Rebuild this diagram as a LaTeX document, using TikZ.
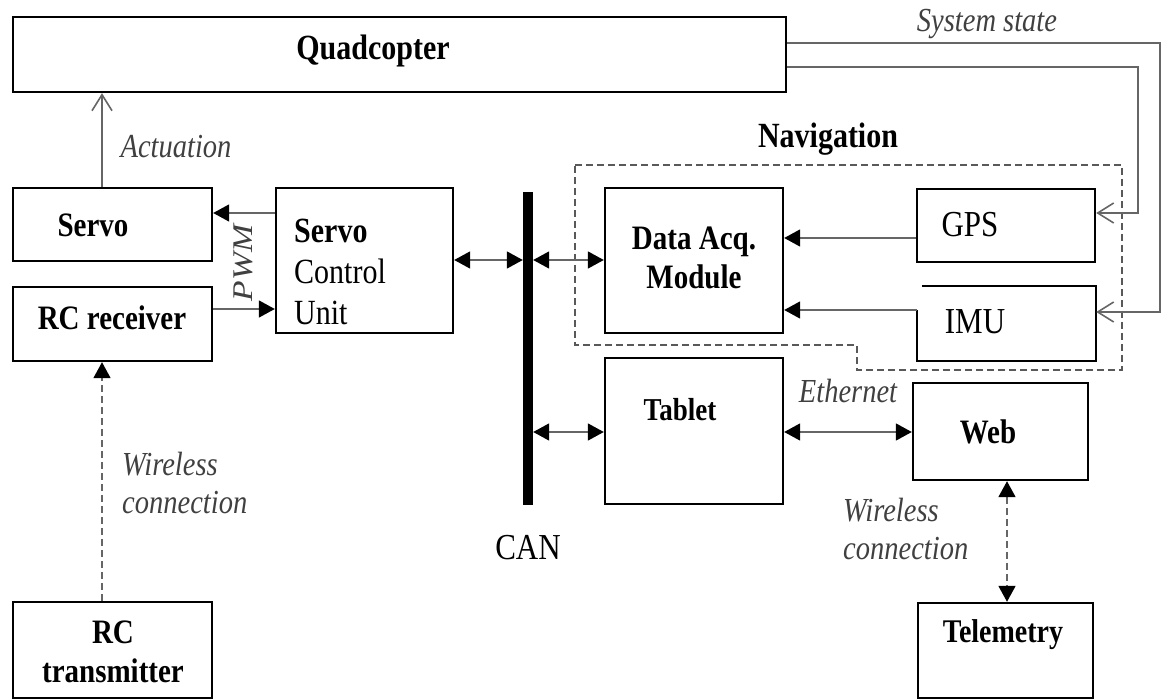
\documentclass[tikz,border=0pt]{standalone}
\usepackage{fontspec}
\setmainfont{Liberation Serif}
\usetikzlibrary{arrows.meta,fit,calc}
\begin{document}
\begin{tikzpicture}[x=1pt,y=-1pt,
  box/.style={draw=black, line width=2.4pt, inner sep=0pt},
  conn/.style={draw=black!60, line width=1.7pt},
  wire/.style={draw=black!60, line width=1.7pt, dash pattern=on 7pt off 4pt},
  navline/.style={draw=black!65, line width=1.6pt, dash pattern=on 7pt off 4pt},
  tri/.tip={Triangle[length=16pt,width=17pt,color=black]},
  barb/.tip={Straight Barb[length=16pt,width=20pt,line width=1.6pt]},
  bl/.style={font=\fontsize{29}{33}\selectfont\bfseries, inner sep=0pt, yscale=1.18},
  rg/.style={font=\fontsize{31}{35}\selectfont, inner sep=0pt, yscale=1.18},
  it/.style={font=\fontsize{28.5}{31.5}\selectfont\itshape, text=black!75, inner sep=0pt, yscale=1.18}
]
\useasboundingbox (0,0) rectangle (1165,700);

% boxes
\node[box, fit={(13,17) (786,92)}] (quad) {};
\node[box, fit={(13,188) (212,261)}] (servo) {};
\node[box, fit={(13,287) (212,361)}] (rcrx) {};
\node[box, fit={(276,188) (453,333)}] (scu) {};
\node[box, fit={(605,188) (783,333)}] (daq) {};
\node[box, fit={(605,358) (783,504)}] (tablet) {};
\node[box, fit={(917,189) (1095,262)}] (gps) {};
\node[inner sep=0pt, outer sep=1.2pt, fit={(918,287) (1095,360)}] (imu) {};
\draw[line width=2.4pt] ($(imu.north west)+(5,0)$) -- (imu.north east) -- (imu.south east) -- (imu.south west) -- ($(imu.north west)+(0,24)$);
\node[box, fit={(913,383) (1088,480)}] (web) {};
\node[box, fit={(918,603) (1093,698)}] (telem) {};
\node[box, fit={(13,602) (212,698)}] (rctx) {};
\node[fill=black, inner sep=0pt, fit={(523,192) (533,505)}] (can) {};

% navigation dashed region
\draw[navline] (575,165) -- (1122,165) -- (1122,370) -- (857,370) -- (857,345) -- (575,345) -- cycle;

% texts
\node[bl, font=\fontsize{30}{36}\selectfont\bfseries] (tquad) at (373,51) {Quadcopter};
\node[it] (tss) at (987,24) {System state};
\node[it] (tact) at (176,147) {Actuation};
\node[bl, font=\fontsize{30}{36}\selectfont\bfseries] (tnav) at (828,139) {Navigation};
\node[bl] (tservo) at (93,225) {Servo};
\node[bl] (trcrx) at (112,318) {RC receiver};
\node[rg, anchor=west, align=left, font=\fontsize{30}{35}\selectfont] (tscu) at (294,272) {\textbf{Servo}\\Control\\Unit};
\node[it, rotate=90] (tpwm) at (243,263) {PWM};
\node[rg] (tcan) at (528,548) {CAN};
\node[bl, align=center] (tdaq) at (694,258) {Data Acq.\\Module};
\node[bl, font=\fontsize{27}{34}\selectfont\bfseries] (ttab) at (680,410) {Tablet};
\node[rg] (tgps) at (970,225) {GPS};
\node[rg] (timu) at (975,322) {IMU};
\node[it] (teth) at (848,391) {Ethernet};
\node[bl] (tweb) at (988,432) {Web};
\node[it, anchor=west, align=left] (twl2) at (843,529) {Wireless\\connection};
\node[bl, font=\fontsize{28}{34}\selectfont\bfseries] (ttel) at (1003,635) {Telemetry};
\node[it, anchor=west, align=left] (twl1) at (122,483) {Wireless\\connection};
\node[bl, align=center] (trctx) at (113,652) {RC\\transmitter};

% helper coordinates
\coordinate (ax) at (102,0);
\coordinate (wx) at (1007,0);
\coordinate (ys) at (0,213);
\coordinate (yr) at (0,309);
\coordinate (yc) at (0,260);
\coordinate (yt) at (0,432);
\coordinate (yg) at (0,238);
\coordinate (yi) at (0,310);
\coordinate (s1) at (1160,43);
\coordinate (s1b) at (1160,312);
\coordinate (s2) at (1138,67);
\coordinate (s2b) at (1138,213);

% connectors
\draw[conn, -barb] (servo.north -| ax) -- (quad.south -| ax);
\draw[conn, -tri] (scu.west |- ys) -- (servo.east |- ys);
\draw[conn, -tri] (rcrx.east |- yr) -- (scu.west |- yr);
\draw[conn, tri-tri] (scu.east |- yc) -- (can.west |- yc);
\draw[conn, tri-tri] (can.east |- yc) -- (daq.west |- yc);
\draw[conn, tri-tri] (can.east |- yt) -- (tablet.west |- yt);
\draw[conn, tri-tri] (tablet.east |- yt) -- (web.west |- yt);
\draw[conn, -tri] (gps.west |- yg) -- (daq.east |- yg);
\draw[conn, -tri] (imu.west |- yi) -- (daq.east |- yi);
\draw[conn, -barb] (quad.east |- s1) -- (s1) -- (s1b) -- (imu.east |- s1b);
\draw[conn, -barb] (quad.east |- s2) -- (s2) -- (s2b) -- (gps.east |- s2b);
\draw[wire, tri-tri] (web.south -| wx) -- (telem.north -| wx);
\draw[wire, -tri] (rctx.north -| ax) -- (rcrx.south -| ax);
\end{tikzpicture}
\end{document}
